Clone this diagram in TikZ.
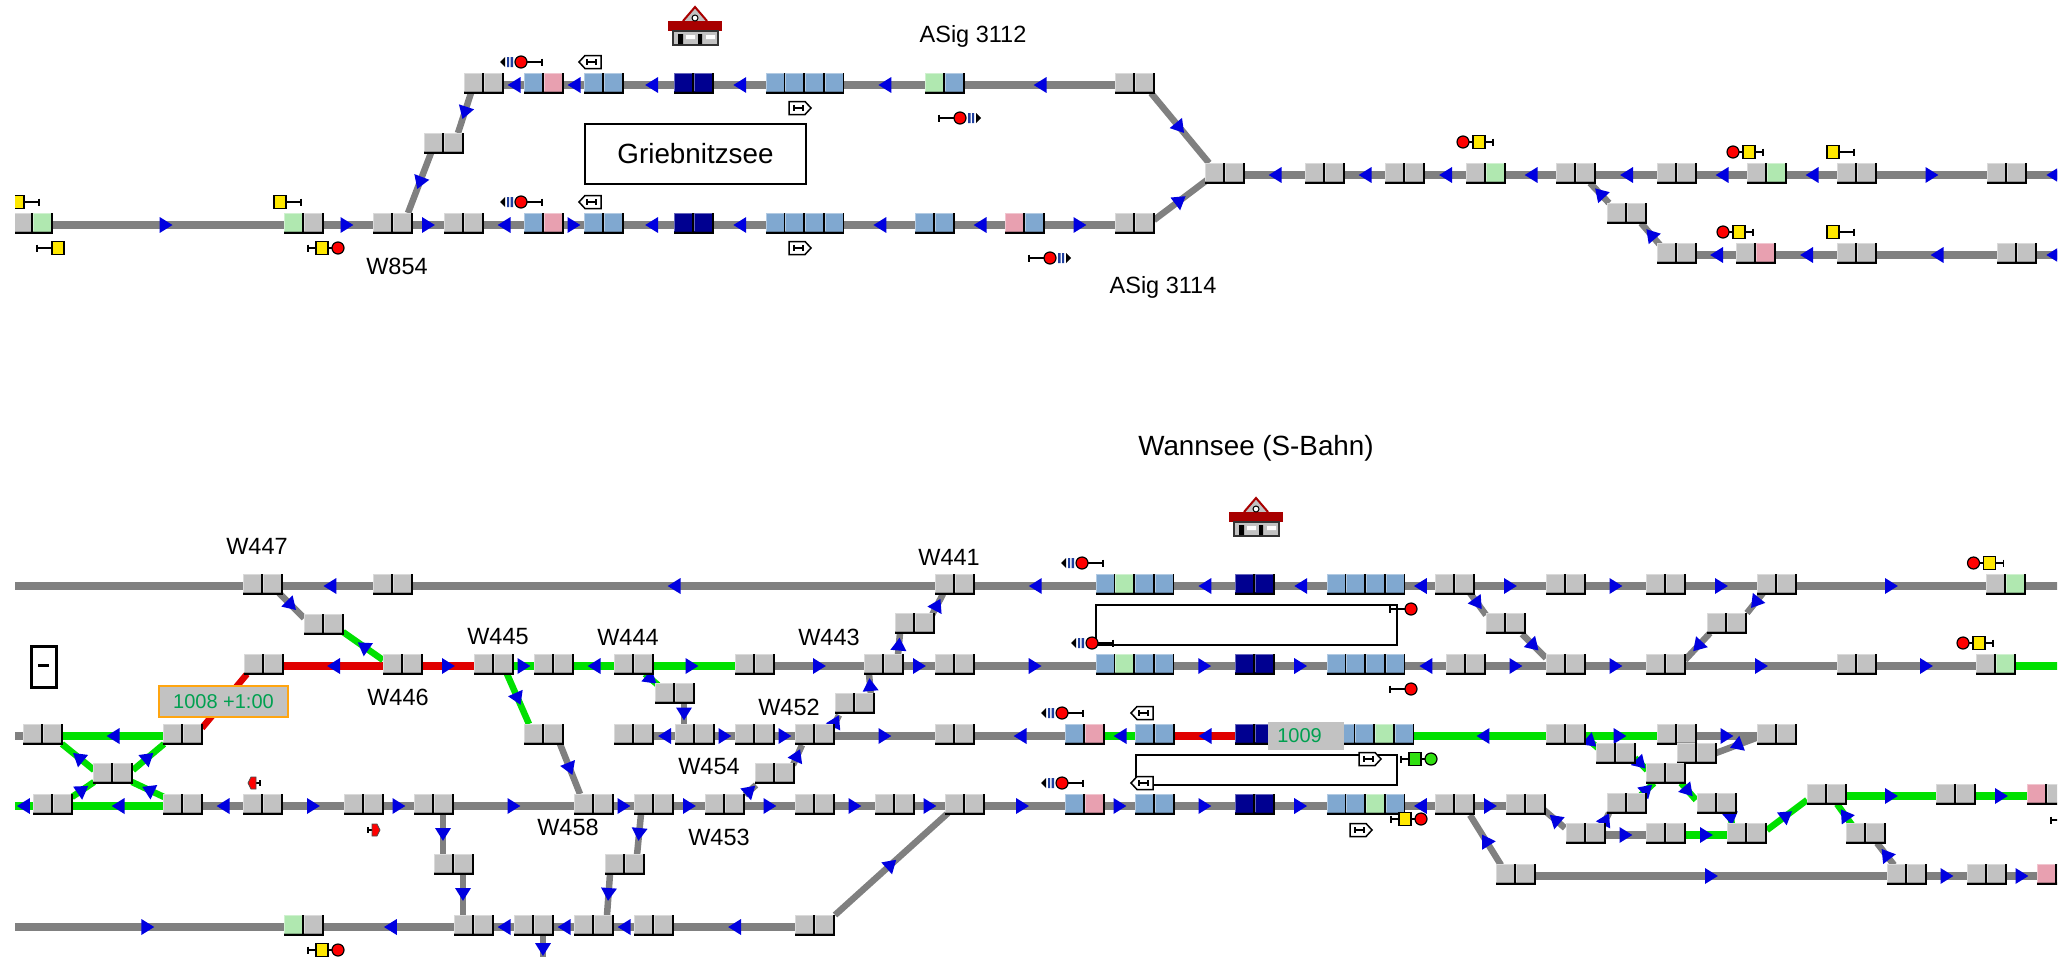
\documentclass[tikz,border=0pt]{standalone}
\usepackage{fontspec}
\setmainfont{Liberation Sans}
\usetikzlibrary{arrows.meta, backgrounds, decorations.markings}
\definecolor{tG}{HTML}{808080}
\definecolor{tN}{HTML}{00E000}
\definecolor{tR}{HTML}{E00000}
\definecolor{arrBlue}{HTML}{0000E0}
\definecolor{cG}{HTML}{C2C2C2}
\definecolor{cB}{HTML}{80A8D0}
\definecolor{cP}{HTML}{E8A0B0}
\definecolor{cL}{HTML}{B0E8B0}
\definecolor{cD}{HTML}{000090}
\definecolor{barBlue}{HTML}{2040A0}
\definecolor{roofRed}{HTML}{A80000}
\definecolor{sigYellow}{HTML}{FFE800}
\definecolor{sigGreen}{HTML}{30E010}
\definecolor{boxOrange}{HTML}{FFA510}
\definecolor{txtGreen}{HTML}{00A050}
\newcommand{\cell}[1]{%
  \rlap{\textcolor{black}{\rule[-8.5pt]{19.6pt}{1.6pt}}}%
  \rlap{\textcolor{#1}{\rule[-7pt]{18pt}{19pt}}}%
  \rlap{\textcolor{#1!60!white}{\rule[-7pt]{1pt}{19pt}}}%
  \rlap{\textcolor{#1!60!white}{\rule[11pt]{18pt}{1pt}}}%
  \rlap{\textcolor{#1!75!black}{\rule[-7pt]{18pt}{1.5pt}}}%
  \hspace{18pt}\textcolor{black}{\rule[-8.5pt]{1.6pt}{20.5pt}}}
\newcommand{\blkstrut}{\rule[-12pt]{0pt}{24pt}}
\newcommand{\stemline}[1]{\draw[sigl] (0,0) -- (#1,0) (#1,-3.5) -- (#1,3.5);}
\tikzset{
  blk/.style={inner sep=0pt, outer sep=0pt},
  trk/.style={line width=8pt},
  dg/.style={line width=6.5pt},
  fw/.style={postaction={decorate}, decoration={markings, mark=at position #1 with {\pgftransformxshift{6.5pt}\arrow[arrBlue]{Triangle[length=13pt,width=15pt]}}}},
  bw/.style={postaction={decorate}, decoration={markings, mark=at position #1 with {\pgftransformxshift{-6.5pt}\arrowreversed[arrBlue]{Triangle[length=13pt,width=15pt]}}}},
  lbl/.style={inner sep=0pt, font=\fontsize{23.5}{26}\selectfont},
  title/.style={inner sep=0pt, font=\fontsize{27.8}{30}\selectfont},
  frm/.style={draw=black, line width=1.5pt, inner sep=0pt},
  sigl/.style={draw=black, line width=1.2pt},
  pics/sigbar/.style={code={
    \stemline{21}
    \fill[black] (-21,0) -- (-16,-5) -- (-16,5) -- cycle;
    \fill[barBlue] (-14,-5) rectangle (-12,5) (-10.5,-5) rectangle (-8,5);
    \draw[sigl, fill=red] (0,0) circle (6);}},
  pics/sigred/.style={code={
    \stemline{21}
    \draw[sigl, fill=red] (0,0) circle (6);}},
  pics/sigy/.style={code={
    \stemline{21}
    \draw[sigl, fill=sigYellow] (-6,-6.5) rectangle (6,6.5);}},
  pics/sigpair/.style 2 args={code={
    \stemline{30}
    \draw[sigl, fill=#1] (0,0) circle (6);
    \draw[sigl, fill=#2] (10,-6.5) rectangle (22,6.5);}},
  pics/sigtag/.style={code={
    \draw[sigl, line width=1.5pt, fill=white] (-11,0) -- (-5,-6.5) -- (11,-6.5) -- (11,6.5) -- (-5,6.5) -- cycle;
    \draw[sigl] (-3,-3) -- (-3,3) (-3,0) -- (6,0) (6,-3) -- (6,3);}},
  pics/sigmini/.style={code={
    \draw[sigl] (0,0) -- (6,0) (6,-3) -- (6,3);
    \fill[red, draw=black!70, line width=.8pt] (-6,0) -- (-3,-6) -- (2,-6) -- (2,6) -- (-3,6) -- cycle;}},
  pics/station/.style={code={
    \draw[roofRed, line width=2pt, fill=cG] (-12,-5) -- (0,-19) -- (12,-5);
    \fill[roofRed] (-27,-5) rectangle (27,5);
    \draw[black, line width=1pt, fill=white] (0,-8) circle (3);
    \draw[black!80, line width=1.5pt, fill=cG] (-22,5) rectangle (23,19);
    \fill[black] (-17,8) rectangle (-12,18) (3,8) rectangle (7,18);
    \fill[white] (-9,9) rectangle (0,13) (11,9) rectangle (20,13);}}
}
\begin{document}
\begin{tikzpicture}[x=1pt, y=-1pt]
  \useasboundingbox (0,0) rectangle (2069,956);
  \clip (15,0) rectangle (2057,956);
  % plain grey blocks
  \foreach \n/\x/\y in {ga1/484/85, ga7/1135/85, gm/444/145, gb3/393/225, gb4/464/225, gb11/1135/225,
      ha1/1225/175, ha2/1325/175, ha3/1405/175, ha5/1576/175, ha6/1677/175, ha8/1857/175, ha9/2007/175,
      hm/1627/215, hb1/1677/255, hb3/1857/255, hb4/2017/255,
      r1a/263/586, r1b/393/586, r1c/955/586, r1g/1455/586, r1h/1566/586, r1i/1666/586, r1j/1777/586,
      m1/324/626, n1/1506/625, n2/1727/625,
      r2a/264/666, r2b/403/666, r2c/494/666, r2d/554/666, r2e/634/666, r2f/755/666, r2g/884/666, r2h/955/666,
      r2l/1466/666, r2m/1566/666, r2n/1666/666, r2o/1857/666,
      m2/675/695, m3/855/705, m4/915/625,
      r3a/43/736, r3b/183/736, r3c/544/736, r3d/634/736, r3e/695/736, r3f/755/736, r3g/815/736, r3h/955/736,
      r3m/1566/736, r3n/1677/736, r3o/1777/736,
      n3/1616/755, n4/1697/755, n5/1666/775, m5/775/775, x1/113/775, n7/1627/805, n8/1717/805,
      n9/1827/796, n10/1956/796,
      r4a/53/806, r4b/183/806, r4c/263/806, r4d/364/806, r4e/434/806, r4f/594/806, r4g/654/806, r4h/725/806,
      r4i/815/806, r4j/895/806, r4k/965/806, r4p/1455/806, r4q/1526/806,
      n12/1586/835, n13/1666/835, n14/1747/835, n15/1866/835, m6/625/866, m7/454/866,
      r6a/1516/876, r6b/1907/876, r6c/1987/876,
      r5b/474/927, r5c/534/927, r5d/594/927, r5e/654/927, r5f/815/927}
    \node[blk] (\n) at (\x,\y) {\blkstrut\cell{cG}\cell{cG}};
  % coloured blocks
  \foreach \n/\x/\y/\ca/\cb in {ga2/544/85/cB/cP, ga3/604/85/cB/cB, ga4/694/85/cD/cD, ga6/945/85/cL/cB,
      gb1/33/225/cG/cL, gb2/304/225/cL/cG, gb5/544/225/cB/cP, gb6/604/225/cB/cB, gb7/694/225/cD/cD,
      gb9/935/225/cB/cB, gb10/1025/225/cP/cB,
      ha4/1486/175/cG/cL, ha7/1767/175/cG/cL, hb2/1756/255/cG/cP,
      r1e/1255/586/cD/cD, r1k/2006/586/cG/cL, r2j/1255/666/cD/cD, r2p/1996/666/cG/cL,
      r3i/1085/736/cB/cP, r3j/1155/736/cB/cB, r3k/1255/736/cD/cD,
      r4l/1085/806/cB/cP, r4m/1155/806/cB/cB, r4n/1255/806/cD/cD,
      n11/2047/796/cP/cG, r6d/2057/876/cP/cG, r5a/304/927/cL/cG}
    \node[blk] (\n) at (\x,\y) {\blkstrut\cell{\ca}\cell{\cb}};
  % platform blocks
  \foreach \n/\x/\y/\ca/\cb/\cc/\cd in {ga5/805/85/cB/cB/cB/cB, gb8/805/225/cB/cB/cB/cB,
      r1d/1135/586/cB/cL/cB/cB, r1f/1366/586/cB/cB/cB/cB, r2i/1135/666/cB/cL/cB/cB, r2k/1366/666/cB/cB/cB/cB,
      r3l/1375/736/cB/cB/cL/cB, r4o/1366/806/cB/cB/cL/cB}
    \node[blk] (\n) at (\x,\y) {\blkstrut\cell{\ca}\cell{\cb}\cell{\cc}\cell{\cd}};
  % loose track ends
  \coordinate (endHa) at (2080,175);
  \coordinate (endHb) at (2080,255);
  \coordinate (startR1) at (0,586);
  \coordinate (endR1) at (2080,586);
  \coordinate (endR2) at (2080,666);
  \coordinate (startR3) at (0,736);
  \coordinate (startR4) at (0,806);
  \coordinate (startR5) at (0,927);
  \coordinate (endDown) at (543,970);
  \begin{pgfonlayer}{background}
    \clip (15,0) rectangle (2057,956);
    \foreach \a/\b in {startR1/r1a, r1k/endR1, startR3/r3a}
      \draw[trk, tG] (\a) -- (\b);
    \draw[trk, tN] (r2p) -- (endR2);
    \draw[trk, tN] (r3k) -- (r3l);
    % running to the right
    \foreach \c/\a/\b/\p in {tG/gb1/gb2/.49, tG/gb2/gb3/.47, tG/gb3/gb4/.5, tG/gb5/gb6/.5, tG/gb10/gb11/.5, tG/ha8/ha9/.5,
        tG/r1g/r1h/.5, tG/r1h/r1i/.5, tG/r1i/r1j/.5, tG/r1j/r1k/.5,
        tR/r2b/r2c/.5, tN/r2c/r2d/.5, tN/r2e/r2f/.47, tG/r2f/r2g/.5, tG/r2g/r2h/.5, tG/r2h/r2i/.5, tG/r2i/r2j/.5, tG/r2j/r2k/.5,
        tG/r2l/r2m/.5, tG/r2m/r2n/.5, tG/r2n/r2o/.5, tG/r2o/r2p/.5,
        tG/r3e/r3f/.5, tG/r3f/r3g/.5, tG/r3g/r3h/.5, tN/r3m/r3n/.48, tG/r3n/r3o/.5,
        tG/r4c/r4d/.5, tG/r4d/r4e/.5, tG/r4e/r4f/.5, tG/r4f/r4g/.5, tG/r4g/r4h/.5, tG/r4h/r4i/.5, tG/r4i/r4j/.5, tG/r4j/r4k/.5,
        tG/r4k/r4l/.47, tG/r4l/r4m/.5, tG/r4m/r4n/.5, tG/r4n/r4o/.5, tG/r4p/r4q/.5,
        tG/n12/n13/.5, tN/n13/n14/.5, tN/n9/n10/.5, tN/n10/n11/.5,
        tG/r6a/r6b/.5, tG/r6b/r6c/.5, tG/r6c/r6d/.5, tG/startR5/r5a/.52}
      \draw[trk, \c, fw=\p] (\a) -- (\b);
    % running to the left
    \foreach \c/\a/\b/\p in {tG/ga1/ga2/.5, tG/ga2/ga3/.5, tG/ga3/ga4/.55, tG/ga4/ga5/.5, tG/ga5/ga6/.5, tG/ga6/ga7/.5,
        tG/gb4/gb5/.5, tG/gb6/gb7/.55, tG/gb7/gb8/.5, tG/gb8/gb9/.5, tG/gb9/gb10/.5,
        tG/ha1/ha2/.5, tG/ha2/ha3/.5, tG/ha3/ha4/.5, tG/ha4/ha5/.5, tG/ha5/ha6/.5, tG/ha6/ha7/.5, tG/ha7/ha8/.5, tG/ha9/endHa/.49,
        tG/hb1/hb2/.5, tG/hb2/hb3/.5, tG/hb3/hb4/.5, tG/hb4/endHb/.37,
        tG/r1a/r1b/.52, tG/r1b/r1c/.5, tG/r1c/r1d/.5, tG/r1d/r1e/.5, tG/r1e/r1f/.5, tG/r1f/r1g/.5,
        tR/r2a/r2b/.5, tN/r2d/r2e/.5, tG/r2k/r2l/.5,
        tN/r3a/r3b/.5, tG/r3d/r3e/.5, tG/r3h/r3i/.5, tN/r3i/r3j/.5, tR/r3j/r3k/.5, tN/r3l/r3m/.52,
        tN/startR4/r4a/.7, tN/r4a/r4b/.5, tG/r4b/r4c/.5, tG/r4o/r4p/.5,
        tG/r5a/r5b/.51, tG/r5b/r5c/.5, tG/r5c/r5d/.5, tG/r5d/r5e/.5, tG/r5e/r5f/.5}
      \draw[trk, \c, bw=\p] (\a) -- (\b);
    % branches, arrow along the line
    \foreach \c/\a/\ax/\ay/\b/\bx/\by in {tG/ga7/16/8/ha1/-16/-12, tG/gb11/19/-5/ha1/-18/5,
        tG/r1a/16/7/m1/-20/-8, tN/r2c/13/8/r3c/-15/-12, tG/r3c/16/8/r4f/-14/-12,
        tN/r2e/11/8/m2/-17/-10, tG/m2/9/9/r3e/-11/-12,
        tG/m3/16/-10/r2g/-15/8, tG/r3g/18/-9/m3/-16/10, tG/r2g/14/-11/m4/-15/8, tG/m4/17/-10/r1c/-12/8,
        tG/r4g/-13/8/m6/12/-11, tG/m6/-15/8/r5d/13/-12, tG/r4e/9/8/m7/-11/-11, tG/m7/9/8/r5b/-11/-12,
        tG/r5f/20/-12/r4k/-17/7,
        tG/r1g/15/7/n1/-20/-10, tG/n1/16/9/r2m/-20/-8,
        tN/r3m/19/1/n3/-18/-7, tN/n3/19/3/n5/-19/-5, tN/n5/15/8/n8/-21/-5, tN/n8/13/8/n14/-15/-10, tN/n14/20/-5/n9/-20/4}
      \draw[dg, \c, fw=.5] ([shift={(\ax,\ay)}]\a.center) -- ([shift={(\bx,\by)}]\b.center);
    % branches, arrow against the line
    \foreach \c/\a/\ax/\ay/\b/\bx/\by in {tG/gb3/15/-12/gm/-13/8, tG/gm/14/-12/ga1/-13/8,
        tG/ha5/14/8/hm/-18/-12, tG/hm/14/8/hb1/-17/-10,
        tN/m1/19/6/r2b/-20/-6, tG/r3g/-13/9/m5/18/-10, tG/m5/-19/10/r4h/20/-11,
        tN/r3a/19/8/x1/-19/-5, tN/r3b/-19/8/x1/20/-5, tN/x1/-19/7/r4a/19/-9, tN/x1/19/7/r4b/-19/-9,
        tG/r2n/19/-6/n2/-17/8, tG/n2/20/-12/r1j/-14/7, tG/n4/19/-2/r3o/-21/2,
        tN/n5/-12/8/n7/14/-10, tG/n7/-18/8/n12/17/-10, tG/r4q/18/4/n12/-21/-7,
        tN/n9/10/8/n15/-14/-10, tG/n15/11/8/r6b/-13/-11, tG/r4p/15/9/r6a/-15/-11}
      \draw[dg, \c, bw=.5] ([shift={(\ax,\ay)}]\a.center) -- ([shift={(\bx,\by)}]\b.center);
    \draw[dg, tR] ([shift={(-17,8)}]r2a.center) -- ([shift={(19,-8)}]r3b.center);
    \draw[dg, tG, fw=.4] ([shift={(9,9)}]r5c.center) -- (endDown);
  \end{pgfonlayer}
  % station names and frames
  \node[frm, minimum width=221pt, minimum height=60pt, title] (gName) at (695.5,154) {Griebnitzsee};
  \node[title] (wName) at (1256,448) {Wannsee (S-Bahn)};
  \node[frm, minimum width=301pt, minimum height=40pt] (frameA) at (1246.5,625) {};
  \node[frm, minimum width=261pt, minimum height=30pt] (frameB) at (1266.5,770) {};
  \node[draw=black, line width=3pt, minimum width=25pt, minimum height=41pt, inner sep=0pt] (dashBox) at (43.5,666.5) {\rule[2pt]{11pt}{3pt}};
  % labels
  \foreach \n/\x/\y/\t in {lW854/397/266/W854, lA12/973/36/ASig 3112, lA14/1163/287/ASig 3114,
      lW447/257/546/W447, lW445/498/637/W445, lW444/628/637/W444, lW446/398/697/W446, lW458/568/827/W458,
      lW441/949/557/W441, lW443/829/637/W443, lW452/789/707/W452, lW454/709/767/W454, lW453/719/837/W453}
    \node[lbl] (\n) at (\x,\y) {\t};
  % train numbers
  \node[draw=boxOrange, line width=2pt, fill=cG, text=txtGreen, minimum width=129pt, minimum height=31pt, inner sep=0pt,
      font=\fontsize{20}{22}\selectfont] (train1008) at (223.5,701.5) {1008 +1:00};
  \node[fill=cG, text=txtGreen, minimum width=76pt, minimum height=28pt, inner sep=0pt,
      font=\fontsize{20}{22}\selectfont] (train1009) at (1305.5,736) {1009\rule{12pt}{0pt}};
  % station houses
  \pic at (695,26) {station};
  \pic at (1256,517) {station};
  % signals
  \foreach \x/\y in {521/62, 521/202, 1082/563, 1092/643, 1062/713, 1062/783}
    \pic at (\x,\y) {sigbar};
  \foreach \x/\y in {960/118, 1050/258}
    \pic[xscale=-1] at (\x,\y) {sigbar};
  \foreach \x/\y in {590/62, 590/202, 1142/713, 1142/783}
    \pic at (\x,\y) {sigtag};
  \foreach \x/\y in {800/108, 800/248, 1370/759, 1361/830}
    \pic[xscale=-1] at (\x,\y) {sigtag};
  \foreach \x/\y in {1463/142, 1733/152, 1723/232, 1973.5/563, 1963/643}
    \pic at (\x,\y) {sigpair={red}{sigYellow}};
  \foreach \x/\y in {338/248, 338/950, 1421/819}
    \pic[xscale=-1] at (\x,\y) {sigpair={red}{sigYellow}};
  \pic[xscale=-1] at (1431,759) {sigpair={sigGreen}{sigGreen}};
  \foreach \x/\y in {1833/152, 1833/232, 280/202, 18/202}
    \pic at (\x,\y) {sigy};
  \foreach \x/\y in {58/248, 2072/820}
    \pic[xscale=-1] at (\x,\y) {sigy};
  \foreach \x/\y in {1411/609, 1411/689}
    \pic[xscale=-1] at (\x,\y) {sigred};
  \pic at (254,783) {sigmini};
  \pic[xscale=-1] at (374,830) {sigmini};
\end{tikzpicture}
\end{document}
